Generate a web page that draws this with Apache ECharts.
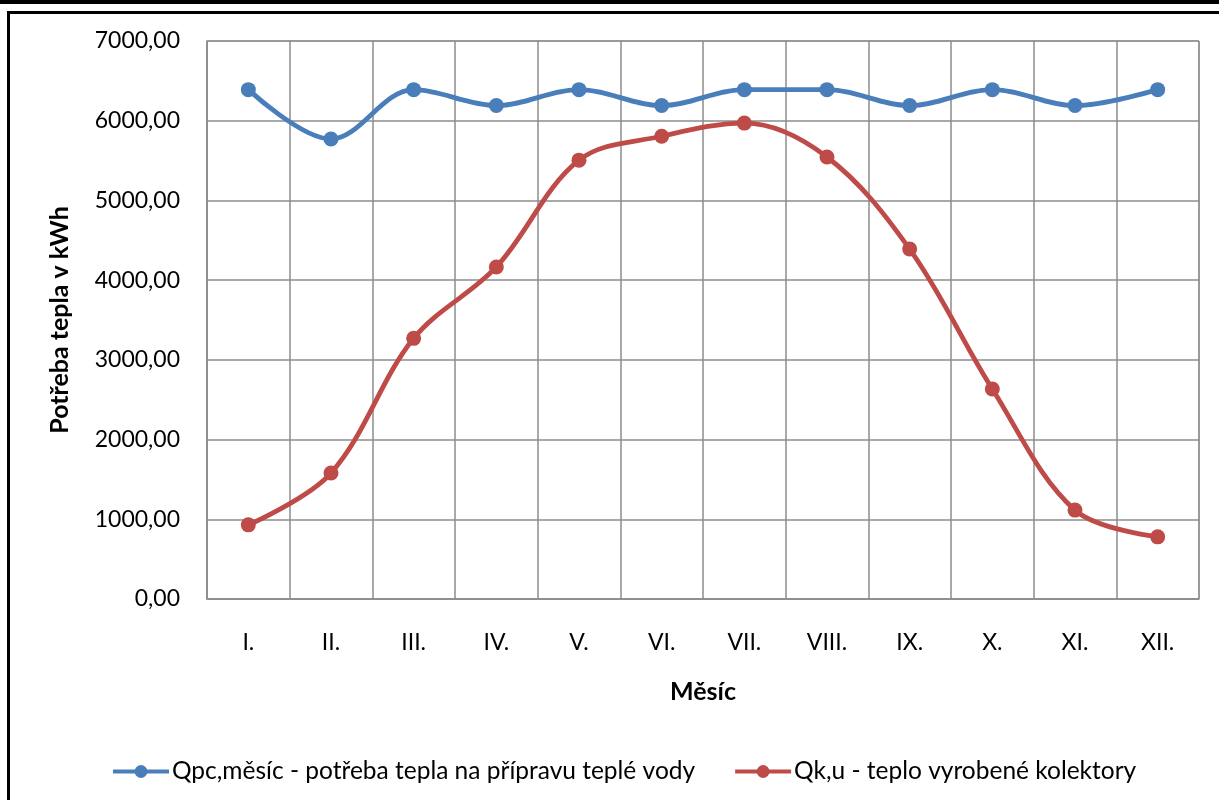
<!DOCTYPE html>
<html>
<head>
<meta charset="utf-8">
<script src="https://cdn.jsdelivr.net/npm/echarts@6/dist/echarts.min.js"></script>
<style>
  html, body { margin: 0; padding: 0; background: #fff; }
  .topbar { position: absolute; left: 0; top: 0; width: 1219px; height: 4px; background: #000; }
  .frame { position: absolute; left: 7px; top: 11px; width: 1212px; height: 789px;
           border-top: 3px solid #000; border-left: 3px solid #000; box-sizing: border-box; }
  #chart { position: absolute; left: 0; top: 0; width: 1219px; height: 800px; }
</style>
</head>
<body>
<div class="topbar"></div>
<div class="frame"></div>
<div id="chart"></div>
<script>
const months = ['I.', 'II.', 'III.', 'IV.', 'V.', 'VI.', 'VII.', 'VIII.', 'IX.', 'X.', 'XI.', 'XII.']
const demand = [6390, 5770, 6390, 6190, 6390, 6190, 6390, 6390, 6190, 6390, 6190, 6390]
const collectors = [930, 1580, 3270, 4165, 5505, 5805, 5970, 5545, 4390, 2635, 1115, 780]

const demandName = 'Qpc,měsíc - potřeba tepla na přípravu teplé vody'
const collectorName = 'Qk,u - teplo vyrobené kolektory'

const font = 'Lato, "Open Sans", sans-serif'
const chart = echarts.init(document.getElementById('chart'))

chart.setOption({
  backgroundColor: 'transparent',
  textStyle: { fontFamily: font },
  grid: { left: 207, right: 20, top: 41, bottom: 201, show: true, borderColor: '#8c8c8c', borderWidth: 1 },
  legend: {
    top: 754,
    left: 106,
    itemGap: 38,
    itemWidth: 56,
    itemHeight: 16,
    lineStyle: { width: 4 },
    textStyle: { fontFamily: font, fontSize: 24.5, color: '#000', padding: [0, 0, 0, -2] },
    data: [demandName, collectorName]
  },
  xAxis: {
    type: 'category',
    data: months,
    boundaryGap: true,
    name: 'Měsíc',
    nameLocation: 'middle',
    nameGap: 80,
    nameTextStyle: { fontFamily: font, fontSize: 25, fontWeight: 'bold', color: '#000' },
    axisLine: { lineStyle: { color: '#8c8c8c', width: 1.5 } },
    axisTick: { show: false },
    axisLabel: { fontSize: 23, color: '#000', margin: 32 },
    splitLine: { show: true, interval: 0, lineStyle: { color: '#8c8c8c', width: 1.5 } }
  },
  yAxis: {
    type: 'value',
    min: 0,
    max: 7000,
    interval: 1000,
    name: 'Potřeba tepla v kWh',
    nameLocation: 'middle',
    nameGap: 135,
    nameTextStyle: { fontFamily: font, fontSize: 25, fontWeight: 'bold', color: '#000' },
    axisLine: { show: true, lineStyle: { color: '#8c8c8c', width: 1.5 } },
    axisTick: { show: false },
    axisLabel: { fontSize: 23, color: '#000', margin: 27, formatter: v => v.toFixed(2).replace('.', ',') },
    splitLine: { lineStyle: { color: '#8c8c8c', width: 1.5 } }
  },
  series: [
    {
      name: demandName,
      type: 'line',
      data: demand,
      smooth: 0.35,
      symbol: 'circle',
      symbolSize: 15,
      lineStyle: { width: 4.8, color: '#4a7ebb' },
      itemStyle: { color: '#4a7ebb' }
    },
    {
      name: collectorName,
      type: 'line',
      data: collectors,
      smooth: 0.35,
      symbol: 'circle',
      symbolSize: 15,
      lineStyle: { width: 4.8, color: '#be4b48' },
      itemStyle: { color: '#be4b48' }
    }
  ]
})
</script>
</body>
</html>
